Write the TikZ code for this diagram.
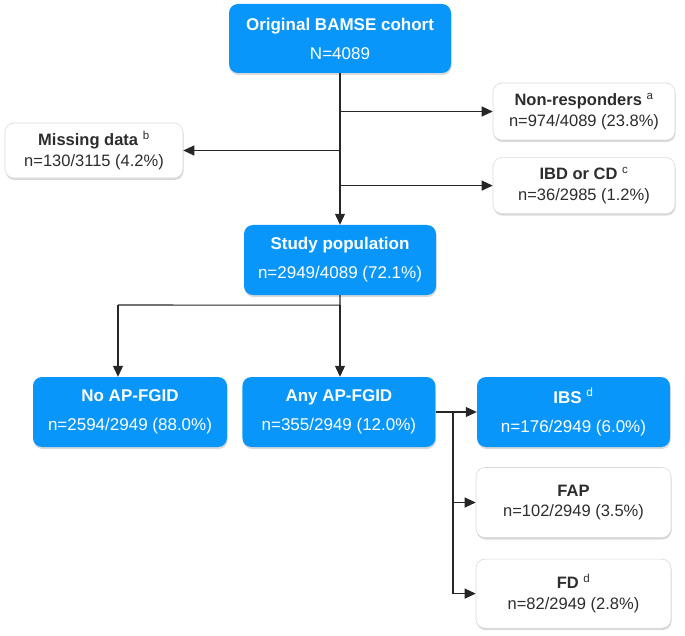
\documentclass[tikz,border=0pt]{standalone}
\usepackage{fontspec}
\setmainfont{Liberation Sans}
\usetikzlibrary{arrows.meta,positioning,shadows}
\definecolor{bamseblue}{RGB}{8,150,250}
\definecolor{boxgray}{RGB}{218,218,218}
\definecolor{txtgray}{RGB}{45,45,45}
\tikzset{
  bluebox/.style = {rectangle, rounded corners=9pt, fill=bamseblue, text=white, align=center, inner sep=0pt, font=\fontsize{17}{21}\selectfont, drop shadow={shadow xshift=0.6pt, shadow yshift=-2pt, opacity=0.3}},
  whitebox/.style = {rectangle, rounded corners=9pt, draw=boxgray, line width=0.6pt, fill=white, text=txtgray, align=center, inner sep=0pt, font=\fontsize{16.5}{20.5}\selectfont, drop shadow={shadow xshift=0.6pt, shadow yshift=-2pt, opacity=0.3}},
  myline/.style = {line width=1.1pt, draw=black!85},
  myarrow/.style = {-{Triangle[length=11pt,width=10pt]}, line width=1.1pt, draw=black!85},
}
\begin{document}
\begin{tikzpicture}[x=1pt,y=-1pt]
\useasboundingbox (0,0) rectangle (685,636);
\node[bluebox, minimum width=222pt, minimum height=69pt] (orig) at (340,38.5) {\textbf{Original BAMSE cohort}\\[8pt]N=4089};
\node[whitebox, minimum width=182pt, minimum height=57pt] (nonresp) at (584,111.5) {\textbf{Non-responders} \textsuperscript{a}\\n=974/4089 (23.8\%)};
\node[whitebox, minimum width=182pt, minimum height=56pt, below=17pt of nonresp] (ibdcd) {\textbf{IBD or CD} \textsuperscript{c}\\n=36/2985 (1.2\%)};
\node[whitebox, minimum width=178pt, minimum height=55pt] (missing) at (94,150.5) {\textbf{Missing data} \textsuperscript{b}\\n=130/3115 (4.2\%)};
\node[bluebox, minimum width=192pt, minimum height=70pt] (study) at (340,260) {\textbf{Study population}\\[8pt]n=2949/4089 (72.1\%)};
\node[bluebox, minimum width=194pt, minimum height=70pt] (noap) at (130,412) {\textbf{No AP-FGID}\\[8pt]n=2594/2949 (88.0\%)};
\node[bluebox, minimum width=193pt, minimum height=70pt, right=15pt of noap] (anyap) {\textbf{Any AP-FGID}\\[8pt]n=355/2949 (12.0\%)};
\node[bluebox, minimum width=193pt, minimum height=70pt] (ibs) at (573.5,412) {\textbf{IBS} \textsuperscript{d}\\[8pt]n=176/2949 (6.0\%)};
\node[whitebox, minimum width=195pt, minimum height=70pt, below=20pt of ibs] (fap) {\textbf{FAP}\\n=102/2949 (3.5\%)};
\node[whitebox, minimum width=195pt, minimum height=69pt, below=21pt of fap] (fd) {\textbf{FD} \textsuperscript{d}\\n=82/2949 (2.8\%)};
% exclusions from the cohort
\draw[myarrow] (orig) -- (study);
\coordinate (t1) at (orig.south |- nonresp.west);
\coordinate (t2) at (orig.south |- ibdcd.west);
\coordinate (t3) at (orig.south |- missing.east);
\draw[myarrow] (t1) -- (nonresp.west);
\draw[myarrow] (t2) -- (ibdcd.west);
\draw[myarrow] (t3) -- (missing.east);
% split of the study population
\coordinate[below=10pt of study] (split);
\coordinate (lft) at (118,305);
\draw[myline] (study.south) -- (split) -- (lft);
\draw[myarrow] (split) -- (split |- anyap.north);
\draw[myarrow] (lft) -- (lft |- noap.north);
% subgroups
\coordinate (fork) at (453,412);
\draw[myarrow] (anyap.east) -- (ibs.west);
\draw[myarrow] (fork) |- (fap.west);
\draw[myarrow] (fork) |- (fd.west);
\end{tikzpicture}
\end{document}
